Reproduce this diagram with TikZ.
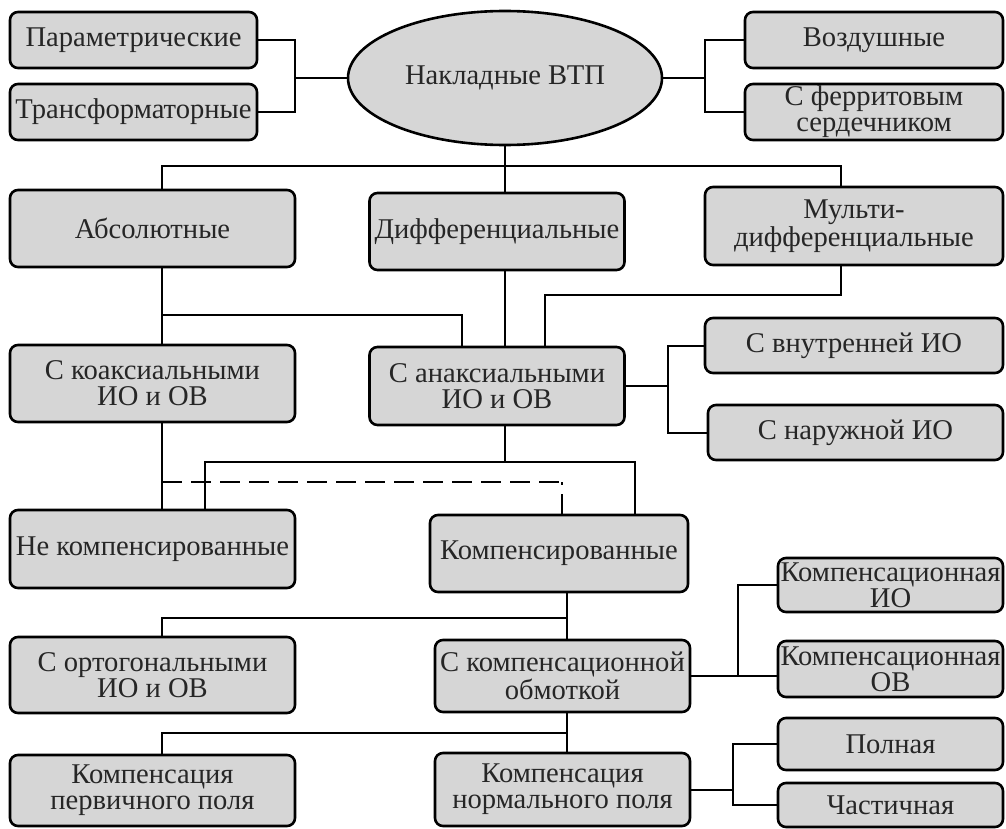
\documentclass[tikz,border=0pt]{standalone}
\usepackage{fontspec}
\setmainfont{Liberation Serif}
\usetikzlibrary{shapes.geometric}

\begin{document}
\begin{tikzpicture}[x=0.5pt,y=-0.5pt,
  box/.style={draw,line width=1.3pt,rounded corners=4pt,fill=black!16,text=black!85,
    align=center,inner xsep=1pt,inner ysep=0.5pt,font=\fontsize{14.3}{13}\selectfont},
  wire/.style={line width=1pt}]
  \useasboundingbox[fill=white] (0,0) rectangle (1006,829);
  % top row
  \node[box,ellipse,minimum width=157pt,minimum height=67pt] (vtp) at (505,78) {Накладные ВТП};
  \node[box,minimum width=123.5pt,minimum height=28pt] (param) at (133.5,40) {Параметрические};
  \node[box,minimum width=123.5pt,minimum height=28pt] (trans) at (133.5,112) {Трансформаторные};
  \node[box,minimum width=129pt,minimum height=28pt] (vozd) at (874,40) {Воздушные};
  \node[box,minimum width=129pt,minimum height=28pt] (ferr) at (874,112) {С ферритовым\\сердечником};
  % second row
  \node[box,minimum width=142.5pt,minimum height=38.5pt] (abs) at (152.5,228.5) {Абсолютные};
  \node[box,minimum width=127.5pt,minimum height=38.5pt] (diff) at (497,231.5) {Дифференциальные};
  \node[box,minimum width=149pt,minimum height=39pt] (multi) at (854,226) {Мульти-\\дифференциальные};
  % third row
  \node[box,minimum width=142.5pt,minimum height=38.5pt] (coax) at (152.5,383.5) {С коаксиальными\\ИО и ОВ};
  \node[box,minimum width=127.5pt,minimum height=39pt] (anax) at (497,386) {С анаксиальными\\ИО и ОВ};
  \node[box,minimum width=149pt,minimum height=27.5pt] (vnutr) at (854,345.5) {С внутренней ИО};
  \node[box,minimum width=147.5pt,minimum height=27.5pt] (naruzh) at (855.5,432.5) {С наружной ИО};
  % fourth row
  \node[box,minimum width=142.5pt,minimum height=39pt] (nekomp) at (152.5,549) {Не компенсированные};
  \node[box,minimum width=129pt,minimum height=38.5pt] (komp) at (559,553.5) {Компенсированные};
  % fifth row
  \node[box,minimum width=142.5pt,minimum height=38pt] (orto) at (152.5,675) {С ортогональными\\ИО и ОВ};
  \node[box,minimum width=127.5pt,minimum height=36pt] (obm) at (562.5,676) {С компенсационной\\обмоткой};
  \node[box,minimum width=112.5pt,minimum height=27pt] (kio) at (890.5,585) {Компенсационная\\ИО};
  \node[box,minimum width=112.5pt,minimum height=28pt] (kov) at (890.5,669) {Компенсационная\\ОВ};
  % bottom row
  \node[box,minimum width=142.5pt,minimum height=35.5pt] (perv) at (152.5,790.5) {Компенсация\\первичного поля};
  \node[box,minimum width=127.5pt,minimum height=36.5pt] (norm) at (562.5,789.5) {Компенсация\\нормального поля};
  \node[box,minimum width=112.5pt,minimum height=26pt] (poln) at (890.5,744) {Полная};
  \node[box,minimum width=112.5pt,minimum height=22pt] (chast) at (890.5,805) {Частичная};

  % junctions
  \coordinate (jl) at (295,78);
  \coordinate (jr) at (705,78);
  \coordinate (ja) at (162,166);
  \coordinate (jm) at (841,166);
  \coordinate (jd) at (462,315);
  \coordinate (jm2) at (841,295);
  \coordinate (je) at (545,295);
  \coordinate (jf) at (668,0);
  \coordinate (jh) at (205,462);
  \coordinate (ji) at (635,462);
  \coordinate (jk) at (562,482);
  \coordinate (jg) at (567,618);
  \coordinate (jn) at (738,0);
  \coordinate (jp) at (567,733);
  \coordinate (jq) at (733,0);

  % connectors
  \draw[wire] (vtp.west) -- (jl);
  \draw[wire] (param.east) -| (jl) |- (trans.east);
  \draw[wire] (vtp.east) -- (jr);
  \draw[wire] (vozd.west) -| (jr) |- (ferr.west);
  \draw[wire] (vtp.south) -- (vtp.south |- diff.north);
  \draw[wire] (ja |- abs.north) -- (ja) -- (jm) -- (jm |- multi.north);
  \draw[wire] (ja |- abs.south) -- (ja |- coax.north);
  \draw[wire] (ja |- jd) -- (jd) -- (jd |- anax.north);
  \draw[wire] (vtp.south |- diff.south) -- (vtp.south |- anax.north);
  \draw[wire] (jm |- multi.south) -- (jm2) -- (je) -- (je |- anax.north);
  \draw[wire] (anax.east) -- (anax.east -| jf);
  \draw[wire] (vnutr.west) -| (jf |- naruzh.west) -- (naruzh.west);
  \draw[wire] (vtp.south |- anax.south) -- (vtp.south |- jh);
  \draw[wire] (jh |- nekomp.north) -- (jh) -- (ji) -- (ji |- komp.north);
  \draw[wire] (ja |- coax.south) -- (ja |- nekomp.north);
  \draw[wire,dash pattern=on 10pt off 4.5pt] (ja |- jk) -- (jk);
  \draw[wire,dash pattern=on 10pt off 4.5pt] (jk |- komp.north) -- (jk);
  \draw[wire] (jg |- komp.south) -- (jg |- obm.north);
  \draw[wire] (jg) -- (ja |- jg) -- (ja |- orto.north);
  \draw[wire] (obm.east) -- (obm.east -| kov.west);
  \draw[wire] (kio.west) -| (jn |- obm.east);
  \draw[wire] (jp |- obm.south) -- (jp |- norm.north);
  \draw[wire] (jp) -- (ja |- jp) -- (ja |- perv.north);
  \draw[wire] (norm.east) -- (norm.east -| jq);
  \draw[wire] (poln.west) -| (jq |- chast.west) -- (chast.west);
\end{tikzpicture}
\end{document}
